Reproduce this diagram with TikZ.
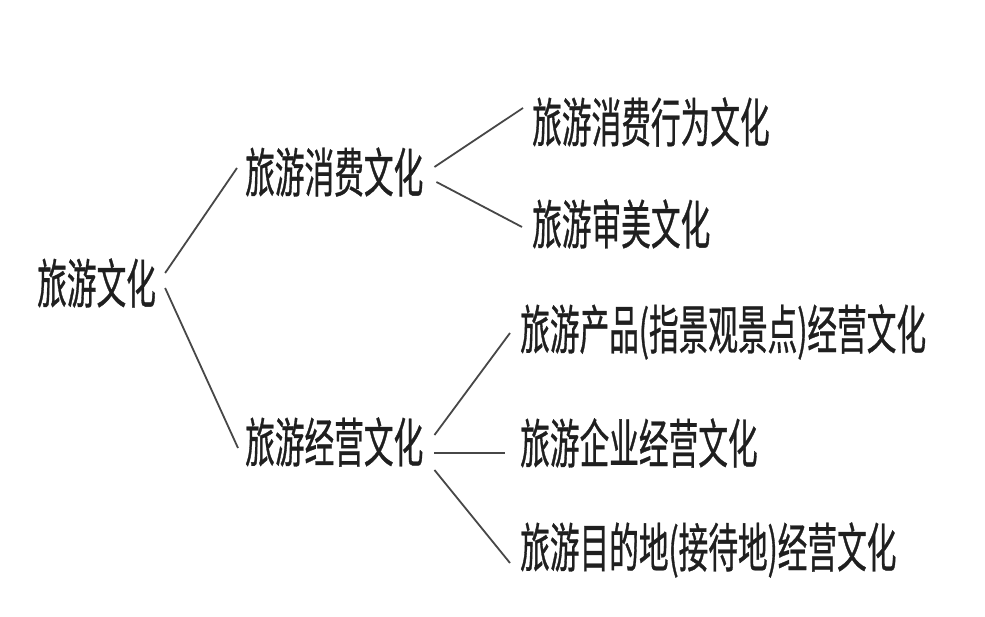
\documentclass[tikz,border=0pt]{standalone}
\usepackage{fontspec}
\newfontfamily\cjk[FakeStretch=0.56,FakeBold=0.6]{Noto Sans CJK SC}
\usetikzlibrary{calc}
\begin{document}
\begin{tikzpicture}[x=1pt,y=-1pt,
  lbl/.style={inner sep=0pt, anchor=west, font=\cjk\fontsize{53}{53}\selectfont, text=black!88},
  conn/.style={draw=black!72, line width=1.8pt}]
\useasboundingbox[fill=white] (0,0) rectangle (985,617);
\node[lbl] (root) at (37,283) {旅游文化};
\node[lbl] (c1) at (245,172) {旅游消费文化};
\node[lbl] (c2) at (245,442) {旅游经营文化};
\node[lbl] (a) at (532,122) {旅游消费行为文化};
\node[lbl] (b) at (532,224) {旅游审美文化};
\node[lbl] (p) at (520,332) {旅游产品(指景观景点)经营文化};
\node[lbl] (q) at (520,443) {旅游企业经营文化};
\node[lbl] (r) at (520,550) {旅游目的地(接待地)经营文化};
\draw[conn] ($(root.east)+(9,-10)$) -- ($(c1.west)+(-8,-4)$);
\draw[conn] ($(root.east)+(9,5)$) -- ($(c2.west)+(-7,6)$);
\draw[conn] ($(c1.east)+(11,-5)$) -- ($(a.west)+(-9,-14)$);
\draw[conn] ($(c1.east)+(13,10)$) -- ($(b.west)+(-10,3)$);
\draw[conn] ($(c2.east)+(11,-7)$) -- ($(p.west)+(-10,1)$);
\draw[conn] ($(c2.east)+(11,11)$) -- ($(q.west)+(-15,10)$);
\draw[conn] ($(c2.east)+(11,28)$) -- ($(r.west)+(-10,13)$);
\end{tikzpicture}
\end{document}
